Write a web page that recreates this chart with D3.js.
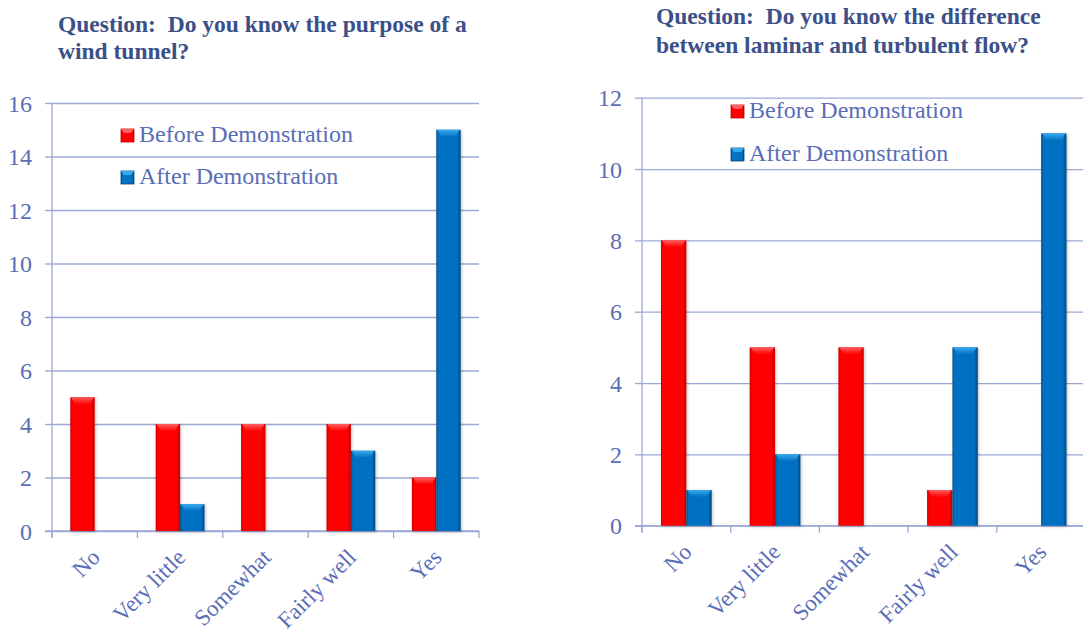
<!DOCTYPE html>
<html>
<head>
<meta charset="utf-8">
<script src="https://cdn.jsdelivr.net/npm/d3@7"></script>
<style>
  body { margin: 0; background: #fff; }
</style>
</head>
<body>
<div id="chart"></div>
<script>
// data
var categories = ["No", "Very little", "Somewhat", "Fairly well", "Yes"];
var seriesNames = ["Before Demonstration", "After Demonstration"];

var purposeBefore = [5, 4, 4, 4, 2];
var purposeAfter = [0, 1, 0, 3, 15];

var flowBefore = [8, 5, 5, 1, 0];
var flowAfter = [1, 2, 0, 5, 11];

var purposeTicks = [0, 2, 4, 6, 8, 10, 12, 14, 16];
var flowTicks = [0, 2, 4, 6, 8, 10, 12];

var serif = "'Liberation Serif', 'Times New Roman', serif";
var textColor = "#5a6db6";
var gridColor = "#9ba8d6";
var titleColor = "#3b5089";

var colors = {
  before: { main: "#ff0000", light: "#ff6060", dark: "#c40000" },
  after: { main: "#0471c2", light: "#38aaf0", dark: "#02487e" }
};

var svg = d3.select("#chart").append("svg")
  .attr("width", 1083)
  .attr("height", 635)
  .style("font-family", serif);

var defs = svg.append("defs");

// gradients for the bar sides and the bevel on top
Object.keys(colors).forEach(function(key) {
  var c = colors[key];
  var g = defs.append("linearGradient")
    .attr("id", "grad-" + key)
    .attr("x1", "0%").attr("x2", "100%")
    .attr("y1", "0%").attr("y2", "0%");
  g.append("stop").attr("offset", "0%").attr("stop-color", c.dark);
  g.append("stop").attr("offset", "8%").attr("stop-color", c.main);
  g.append("stop").attr("offset", "86%").attr("stop-color", c.main);
  g.append("stop").attr("offset", "100%").attr("stop-color", c.dark);

  var t = defs.append("linearGradient")
    .attr("id", "top-" + key)
    .attr("x1", "0%").attr("x2", "0%")
    .attr("y1", "0%").attr("y2", "100%");
  t.append("stop").attr("offset", "0%").attr("stop-color", c.light);
  t.append("stop").attr("offset", "100%").attr("stop-color", c.main);
});

var shadow = defs.append("filter").attr("id", "shadow")
  .attr("x", "-30%").attr("y", "-10%").attr("width", "160%").attr("height", "120%");
shadow.append("feDropShadow")
  .attr("dx", 1).attr("dy", 1).attr("stdDeviation", 1.5)
  .attr("flood-color", "#000").attr("flood-opacity", 0.25);

function drawChart(opts) {
  var g = svg.append("g");

  var x0 = d3.scaleBand()
    .domain(categories)
    .range([opts.left, opts.right])
    .padding(0);

  var x1 = d3.scaleBand()
    .domain(["before", "after"])
    .range([0, x0.bandwidth()])
    .paddingInner(0)
    .paddingOuter(0.75);

  var y = d3.scaleLinear()
    .domain([0, d3.max(opts.ticks)])
    .range([opts.bottom, opts.top]);

  // grid lines
  g.append("g")
    .attr("transform", `translate(${opts.left}, 0)`)
    .call(d3.axisLeft(y).tickValues(opts.ticks).tickSize(-(opts.right - opts.left)).tickFormat(""))
    .call(s => s.select(".domain").remove())
    .call(s => s.selectAll("line").attr("stroke", gridColor).attr("stroke-width", 1.3));

  // y axis
  g.append("g")
    .attr("transform", `translate(${opts.left}, 0)`)
    .call(d3.axisLeft(y).tickValues(opts.ticks).tickSize(7).tickPadding(13))
    .attr("font-family", serif)
    .call(s => s.select(".domain").attr("stroke", gridColor).attr("stroke-width", 1.3)
      .attr("d", `M0,${opts.top}V${opts.bottom + 7}`))
    .call(s => s.selectAll("line").attr("stroke", gridColor).attr("stroke-width", 1.3))
    .call(s => s.selectAll("text")
      .attr("fill", textColor)
      .style("font-family", serif)
      .style("font-size", "24px")
      .attr("dy", "0.34em"));

  // x axis with rotated labels
  var xAxis = g.append("g")
    .attr("transform", `translate(0, ${opts.bottom})`)
    .call(d3.axisBottom(x0).tickSize(0).tickPadding(0))
    .attr("font-family", serif);
  xAxis.select(".domain").remove();
  xAxis.selectAll("text")
    .attr("fill", textColor)
    .style("font-family", serif)
    .style("font-size", "23px")
    .attr("text-anchor", "end")
    .attr("x", 0).attr("y", 0)
    .attr("dy", "0.35em")
    .attr("transform", "translate(1, 22) rotate(-45)");

  xAxis.append("line")
    .attr("x1", opts.left - 7).attr("x2", opts.right)
    .attr("y1", 0).attr("y2", 0)
    .attr("stroke", gridColor).attr("stroke-width", 1.3);

  var bounds = categories.map(c => x0(c)).concat([opts.right]);
  xAxis.selectAll(".bound")
    .data(bounds)
    .enter()
    .append("line")
    .attr("class", "bound")
    .attr("x1", d => d).attr("x2", d => d)
    .attr("y1", 0).attr("y2", 7)
    .attr("stroke", gridColor).attr("stroke-width", 1.3);

  // bars
  var rows = [];
  categories.forEach(function(c, i) {
    rows.push({ cat: c, key: "before", value: opts.before[i] });
    rows.push({ cat: c, key: "after", value: opts.after[i] });
  });
  rows = rows.filter(d => d.value > 0);

  var bars = g.selectAll(".bar")
    .data(rows)
    .enter()
    .append("g")
    .attr("class", "bar")
    .attr("filter", "url(#shadow)");

  bars.append("rect")
    .attr("x", d => x0(d.cat) + x1(d.key))
    .attr("y", d => y(d.value))
    .attr("width", x1.bandwidth())
    .attr("height", d => y(0) - y(d.value))
    .attr("fill", d => `url(#grad-${d.key})`);

  bars.append("polygon")
    .attr("points", function(d) {
      var bx = x0(d.cat) + x1(d.key);
      var by = y(d.value);
      var w = x1.bandwidth();
      return [[bx + 1, by], [bx + w - 1, by], [bx + w - 5, by + 7], [bx + 5, by + 7]].join(" ");
    })
    .attr("fill", d => `url(#top-${d.key})`);

  // legend
  var legend = g.append("g");
  seriesNames.forEach(function(name, i) {
    var key = i === 0 ? "before" : "after";
    var ly = opts.legendY + i * opts.legendGap;
    legend.append("rect")
      .attr("x", opts.legendX)
      .attr("y", ly - 13)
      .attr("width", 13)
      .attr("height", 13)
      .attr("fill", `url(#grad-${key})`)
      .attr("stroke", colors[key].dark)
      .attr("stroke-width", 0.8);
    legend.append("polygon")
      .attr("points", [[opts.legendX, ly - 13], [opts.legendX + 13, ly - 13],
        [opts.legendX + 10, ly - 9], [opts.legendX + 3, ly - 9]].join(" "))
      .attr("fill", colors[key].light);
    legend.append("text")
      .attr("x", opts.legendX + 18)
      .attr("y", ly)
      .attr("fill", textColor)
      .style("font-family", serif)
      .style("font-size", "24px")
      .text(name);
  });

  // title
  var title = g.append("text")
    .attr("fill", titleColor)
    .style("font-family", serif)
    .style("font-size", "23.5px")
    .style("font-weight", "bold");
  opts.title.forEach(function(line, i) {
    title.append("tspan")
      .attr("x", opts.titleX)
      .attr("y", opts.titleY + i * opts.titleGap)
      .text(line);
  });
}

drawChart({
  left: 52, right: 479, top: 103, bottom: 531,
  ticks: purposeTicks,
  before: purposeBefore, after: purposeAfter,
  legendX: 121, legendY: 142, legendGap: 42,
  title: ["Question:\u00a0 Do you know the purpose of a", "wind tunnel?"],
  titleX: 58, titleY: 32, titleGap: 27
});

drawChart({
  left: 642, right: 1085.5, top: 97.7, bottom: 525.7,
  ticks: flowTicks,
  before: flowBefore, after: flowAfter,
  legendX: 731, legendY: 118, legendGap: 43,
  title: ["Question:\u00a0 Do you know the difference", "between laminar and turbulent flow?"],
  titleX: 656, titleY: 24, titleGap: 29
});
</script>
</body>
</html>
